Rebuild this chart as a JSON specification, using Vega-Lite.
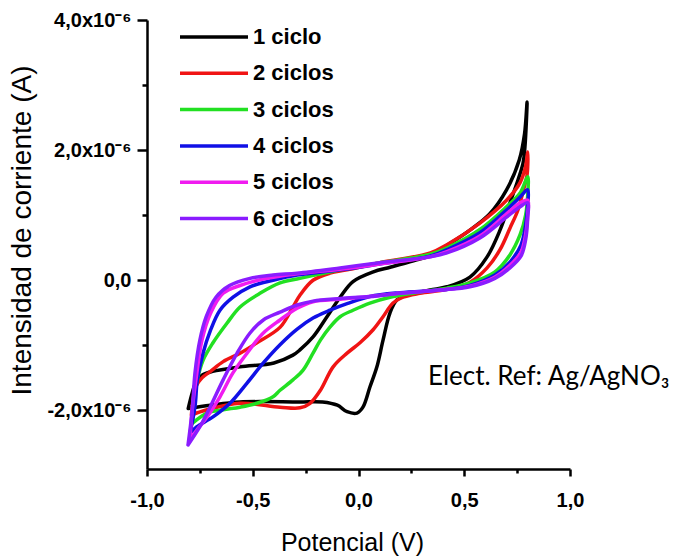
{
  "$schema": "https://vega.github.io/schema/vega-lite/v6.json",
  "width": 423,
  "height": 449,
  "autosize": "none",
  "padding": {"left": 147, "top": 20, "right": 104, "bottom": 87},
  "background": "white",
  "config": {"view": {"stroke": null}},
  "datasets": {
    "note": [{"E": 0.329, "I": -1.61, "label": "Elect. Ref: Ag/AgNO₃"}],
    "cv": [
      {"c":"1 ciclo","i":0,"E":-0.805,"I":-1.97},
      {"c":"1 ciclo","i":1,"E":-0.787,"I":-1.74},
      {"c":"1 ciclo","i":2,"E":-0.768,"I":-1.56},
      {"c":"1 ciclo","i":3,"E":-0.74,"I":-1.46},
      {"c":"1 ciclo","i":4,"E":-0.69,"I":-1.40},
      {"c":"1 ciclo","i":5,"E":-0.56,"I":-1.33},
      {"c":"1 ciclo","i":6,"E":-0.40,"I":-1.27},
      {"c":"1 ciclo","i":7,"E":-0.31,"I":-1.15},
      {"c":"1 ciclo","i":8,"E":-0.277,"I":-1.07},
      {"c":"1 ciclo","i":9,"E":-0.215,"I":-0.87},
      {"c":"1 ciclo","i":10,"E":-0.149,"I":-0.56},
      {"c":"1 ciclo","i":11,"E":-0.087,"I":-0.26},
      {"c":"1 ciclo","i":12,"E":-0.026,"I":-0.02},
      {"c":"1 ciclo","i":13,"E":0.07,"I":0.13},
      {"c":"1 ciclo","i":14,"E":0.15,"I":0.20},
      {"c":"1 ciclo","i":15,"E":0.26,"I":0.30},
      {"c":"1 ciclo","i":16,"E":0.34,"I":0.38},
      {"c":"1 ciclo","i":17,"E":0.42,"I":0.54},
      {"c":"1 ciclo","i":18,"E":0.53,"I":0.78},
      {"c":"1 ciclo","i":19,"E":0.62,"I":1.02},
      {"c":"1 ciclo","i":20,"E":0.70,"I":1.39},
      {"c":"1 ciclo","i":21,"E":0.76,"I":1.85},
      {"c":"1 ciclo","i":22,"E":0.785,"I":2.25},
      {"c":"1 ciclo","i":23,"E":0.797,"I":2.74},
      {"c":"1 ciclo","i":24,"E":0.787,"I":2.05},
      {"c":"1 ciclo","i":25,"E":0.778,"I":1.80},
      {"c":"1 ciclo","i":26,"E":0.754,"I":1.54},
      {"c":"1 ciclo","i":27,"E":0.716,"I":1.19},
      {"c":"1 ciclo","i":28,"E":0.669,"I":0.77},
      {"c":"1 ciclo","i":29,"E":0.608,"I":0.36},
      {"c":"1 ciclo","i":30,"E":0.527,"I":0.05},
      {"c":"1 ciclo","i":31,"E":0.418,"I":-0.10},
      {"c":"1 ciclo","i":32,"E":0.338,"I":-0.15},
      {"c":"1 ciclo","i":33,"E":0.229,"I":-0.23},
      {"c":"1 ciclo","i":34,"E":0.182,"I":-0.30},
      {"c":"1 ciclo","i":35,"E":0.149,"I":-0.50},
      {"c":"1 ciclo","i":36,"E":0.116,"I":-0.92},
      {"c":"1 ciclo","i":37,"E":0.087,"I":-1.33},
      {"c":"1 ciclo","i":38,"E":0.054,"I":-1.64},
      {"c":"1 ciclo","i":39,"E":0.021,"I":-1.95},
      {"c":"1 ciclo","i":40,"E":-0.007,"I":-2.04},
      {"c":"1 ciclo","i":41,"E":-0.054,"I":-2.02},
      {"c":"1 ciclo","i":42,"E":-0.10,"I":-1.92},
      {"c":"1 ciclo","i":43,"E":-0.17,"I":-1.87},
      {"c":"1 ciclo","i":44,"E":-0.28,"I":-1.87},
      {"c":"1 ciclo","i":45,"E":-0.56,"I":-1.87},
      {"c":"1 ciclo","i":46,"E":-0.70,"I":-1.92},
      {"c":"1 ciclo","i":47,"E":-0.805,"I":-1.97},

      {"c":"2 ciclos","i":0,"E":-0.79,"I":-2.07},
      {"c":"2 ciclos","i":1,"E":-0.783,"I":-1.85},
      {"c":"2 ciclos","i":2,"E":-0.77,"I":-1.64},
      {"c":"2 ciclos","i":3,"E":-0.74,"I":-1.50},
      {"c":"2 ciclos","i":4,"E":-0.70,"I":-1.40},
      {"c":"2 ciclos","i":5,"E":-0.64,"I":-1.25},
      {"c":"2 ciclos","i":6,"E":-0.56,"I":-1.12},
      {"c":"2 ciclos","i":7,"E":-0.48,"I":-0.96},
      {"c":"2 ciclos","i":8,"E":-0.37,"I":-0.72},
      {"c":"2 ciclos","i":9,"E":-0.31,"I":-0.41},
      {"c":"2 ciclos","i":10,"E":-0.277,"I":-0.23},
      {"c":"2 ciclos","i":11,"E":-0.215,"I":0.00},
      {"c":"2 ciclos","i":12,"E":-0.135,"I":0.11},
      {"c":"2 ciclos","i":13,"E":-0.054,"I":0.16},
      {"c":"2 ciclos","i":14,"E":0.10,"I":0.27},
      {"c":"2 ciclos","i":15,"E":0.34,"I":0.42},
      {"c":"2 ciclos","i":16,"E":0.42,"I":0.55},
      {"c":"2 ciclos","i":17,"E":0.574,"I":0.88},
      {"c":"2 ciclos","i":18,"E":0.70,"I":1.23},
      {"c":"2 ciclos","i":19,"E":0.764,"I":1.50},
      {"c":"2 ciclos","i":20,"E":0.79,"I":1.75},
      {"c":"2 ciclos","i":21,"E":0.80,"I":1.97},
      {"c":"2 ciclos","i":22,"E":0.797,"I":1.62},
      {"c":"2 ciclos","i":23,"E":0.78,"I":1.39},
      {"c":"2 ciclos","i":24,"E":0.754,"I":1.08},
      {"c":"2 ciclos","i":25,"E":0.716,"I":0.80},
      {"c":"2 ciclos","i":26,"E":0.669,"I":0.47},
      {"c":"2 ciclos","i":27,"E":0.608,"I":0.19},
      {"c":"2 ciclos","i":28,"E":0.527,"I":-0.03},
      {"c":"2 ciclos","i":29,"E":0.418,"I":-0.14},
      {"c":"2 ciclos","i":30,"E":0.29,"I":-0.20},
      {"c":"2 ciclos","i":31,"E":0.21,"I":-0.26},
      {"c":"2 ciclos","i":32,"E":0.163,"I":-0.35},
      {"c":"2 ciclos","i":33,"E":0.116,"I":-0.56},
      {"c":"2 ciclos","i":34,"E":0.069,"I":-0.76},
      {"c":"2 ciclos","i":35,"E":0.007,"I":-0.96},
      {"c":"2 ciclos","i":36,"E":-0.054,"I":-1.12},
      {"c":"2 ciclos","i":37,"E":-0.12,"I":-1.33},
      {"c":"2 ciclos","i":38,"E":-0.18,"I":-1.69},
      {"c":"2 ciclos","i":39,"E":-0.229,"I":-1.89},
      {"c":"2 ciclos","i":40,"E":-0.277,"I":-1.96},
      {"c":"2 ciclos","i":41,"E":-0.371,"I":-1.95},
      {"c":"2 ciclos","i":42,"E":-0.56,"I":-1.89},
      {"c":"2 ciclos","i":43,"E":-0.716,"I":-1.99},
      {"c":"2 ciclos","i":44,"E":-0.79,"I":-2.07},

      {"c":"3 ciclos","i":0,"E":-0.783,"I":-2.19},
      {"c":"3 ciclos","i":1,"E":-0.78,"I":-1.85},
      {"c":"3 ciclos","i":2,"E":-0.764,"I":-1.55},
      {"c":"3 ciclos","i":3,"E":-0.735,"I":-1.23},
      {"c":"3 ciclos","i":4,"E":-0.688,"I":-0.96},
      {"c":"3 ciclos","i":5,"E":-0.622,"I":-0.66},
      {"c":"3 ciclos","i":6,"E":-0.56,"I":-0.41},
      {"c":"3 ciclos","i":7,"E":-0.466,"I":-0.20},
      {"c":"3 ciclos","i":8,"E":-0.371,"I":-0.04},
      {"c":"3 ciclos","i":9,"E":-0.277,"I":0.03},
      {"c":"3 ciclos","i":10,"E":-0.087,"I":0.16},
      {"c":"3 ciclos","i":11,"E":0.10,"I":0.27},
      {"c":"3 ciclos","i":12,"E":0.34,"I":0.40},
      {"c":"3 ciclos","i":13,"E":0.42,"I":0.50},
      {"c":"3 ciclos","i":14,"E":0.574,"I":0.78},
      {"c":"3 ciclos","i":15,"E":0.70,"I":1.13},
      {"c":"3 ciclos","i":16,"E":0.764,"I":1.34},
      {"c":"3 ciclos","i":17,"E":0.80,"I":1.59},
      {"c":"3 ciclos","i":18,"E":0.80,"I":1.31},
      {"c":"3 ciclos","i":19,"E":0.79,"I":1.00},
      {"c":"3 ciclos","i":20,"E":0.764,"I":0.70},
      {"c":"3 ciclos","i":21,"E":0.716,"I":0.39},
      {"c":"3 ciclos","i":22,"E":0.645,"I":0.13},
      {"c":"3 ciclos","i":23,"E":0.527,"I":-0.04},
      {"c":"3 ciclos","i":24,"E":0.418,"I":-0.12},
      {"c":"3 ciclos","i":25,"E":0.29,"I":-0.18},
      {"c":"3 ciclos","i":26,"E":0.196,"I":-0.23},
      {"c":"3 ciclos","i":27,"E":0.149,"I":-0.26},
      {"c":"3 ciclos","i":28,"E":0.054,"I":-0.35},
      {"c":"3 ciclos","i":29,"E":-0.026,"I":-0.46},
      {"c":"3 ciclos","i":30,"E":-0.087,"I":-0.56},
      {"c":"3 ciclos","i":31,"E":-0.135,"I":-0.72},
      {"c":"3 ciclos","i":32,"E":-0.18,"I":-0.92},
      {"c":"3 ciclos","i":33,"E":-0.215,"I":-1.12},
      {"c":"3 ciclos","i":34,"E":-0.262,"I":-1.38},
      {"c":"3 ciclos","i":35,"E":-0.31,"I":-1.53},
      {"c":"3 ciclos","i":36,"E":-0.371,"I":-1.69},
      {"c":"3 ciclos","i":37,"E":-0.404,"I":-1.79},
      {"c":"3 ciclos","i":38,"E":-0.48,"I":-1.89},
      {"c":"3 ciclos","i":39,"E":-0.56,"I":-1.95},
      {"c":"3 ciclos","i":40,"E":-0.64,"I":-1.99},
      {"c":"3 ciclos","i":41,"E":-0.716,"I":-2.04},
      {"c":"3 ciclos","i":42,"E":-0.783,"I":-2.19},

      {"c":"4 ciclos","i":0,"E":-0.797,"I":-2.35},
      {"c":"4 ciclos","i":1,"E":-0.773,"I":-1.94},
      {"c":"4 ciclos","i":2,"E":-0.762,"I":-1.53},
      {"c":"4 ciclos","i":3,"E":-0.735,"I":-1.12},
      {"c":"4 ciclos","i":4,"E":-0.70,"I":-0.77},
      {"c":"4 ciclos","i":5,"E":-0.655,"I":-0.46},
      {"c":"4 ciclos","i":6,"E":-0.593,"I":-0.26},
      {"c":"4 ciclos","i":7,"E":-0.513,"I":-0.10},
      {"c":"4 ciclos","i":8,"E":-0.404,"I":0.00},
      {"c":"4 ciclos","i":9,"E":-0.29,"I":0.08},
      {"c":"4 ciclos","i":10,"E":-0.087,"I":0.16},
      {"c":"4 ciclos","i":11,"E":0.10,"I":0.25},
      {"c":"4 ciclos","i":12,"E":0.338,"I":0.37},
      {"c":"4 ciclos","i":13,"E":0.418,"I":0.47},
      {"c":"4 ciclos","i":14,"E":0.574,"I":0.73},
      {"c":"4 ciclos","i":15,"E":0.70,"I":1.08},
      {"c":"4 ciclos","i":16,"E":0.764,"I":1.28},
      {"c":"4 ciclos","i":17,"E":0.80,"I":1.39},
      {"c":"4 ciclos","i":18,"E":0.80,"I":1.16},
      {"c":"4 ciclos","i":19,"E":0.79,"I":0.85},
      {"c":"4 ciclos","i":20,"E":0.768,"I":0.54},
      {"c":"4 ciclos","i":21,"E":0.716,"I":0.28},
      {"c":"4 ciclos","i":22,"E":0.645,"I":0.08},
      {"c":"4 ciclos","i":23,"E":0.527,"I":-0.08},
      {"c":"4 ciclos","i":24,"E":0.418,"I":-0.14},
      {"c":"4 ciclos","i":25,"E":0.196,"I":-0.19},
      {"c":"4 ciclos","i":26,"E":0.054,"I":-0.25},
      {"c":"4 ciclos","i":27,"E":-0.054,"I":-0.36},
      {"c":"4 ciclos","i":28,"E":-0.135,"I":-0.46},
      {"c":"4 ciclos","i":29,"E":-0.215,"I":-0.58},
      {"c":"4 ciclos","i":30,"E":-0.29,"I":-0.75},
      {"c":"4 ciclos","i":31,"E":-0.371,"I":-0.99},
      {"c":"4 ciclos","i":32,"E":-0.45,"I":-1.27},
      {"c":"4 ciclos","i":33,"E":-0.527,"I":-1.58},
      {"c":"4 ciclos","i":34,"E":-0.608,"I":-1.89},
      {"c":"4 ciclos","i":35,"E":-0.688,"I":-2.10},
      {"c":"4 ciclos","i":36,"E":-0.764,"I":-2.25},
      {"c":"4 ciclos","i":37,"E":-0.797,"I":-2.35},

      {"c":"5 ciclos","i":0,"E":-0.797,"I":-2.45},
      {"c":"5 ciclos","i":1,"E":-0.785,"I":-1.95},
      {"c":"5 ciclos","i":2,"E":-0.764,"I":-1.42},
      {"c":"5 ciclos","i":3,"E":-0.74,"I":-0.92},
      {"c":"5 ciclos","i":4,"E":-0.70,"I":-0.51},
      {"c":"5 ciclos","i":5,"E":-0.64,"I":-0.20},
      {"c":"5 ciclos","i":6,"E":-0.56,"I":-0.08},
      {"c":"5 ciclos","i":7,"E":-0.433,"I":0.03},
      {"c":"5 ciclos","i":8,"E":-0.29,"I":0.10},
      {"c":"5 ciclos","i":9,"E":-0.087,"I":0.17},
      {"c":"5 ciclos","i":10,"E":0.10,"I":0.25},
      {"c":"5 ciclos","i":11,"E":0.338,"I":0.36},
      {"c":"5 ciclos","i":12,"E":0.418,"I":0.44},
      {"c":"5 ciclos","i":13,"E":0.574,"I":0.68},
      {"c":"5 ciclos","i":14,"E":0.70,"I":1.02},
      {"c":"5 ciclos","i":15,"E":0.764,"I":1.19},
      {"c":"5 ciclos","i":16,"E":0.80,"I":1.23},
      {"c":"5 ciclos","i":17,"E":0.80,"I":1.00},
      {"c":"5 ciclos","i":18,"E":0.79,"I":0.70},
      {"c":"5 ciclos","i":19,"E":0.768,"I":0.43},
      {"c":"5 ciclos","i":20,"E":0.716,"I":0.23},
      {"c":"5 ciclos","i":21,"E":0.645,"I":0.05},
      {"c":"5 ciclos","i":22,"E":0.527,"I":-0.09},
      {"c":"5 ciclos","i":23,"E":0.385,"I":-0.15},
      {"c":"5 ciclos","i":24,"E":0.196,"I":-0.20},
      {"c":"5 ciclos","i":25,"E":0.054,"I":-0.25},
      {"c":"5 ciclos","i":26,"E":-0.087,"I":-0.29},
      {"c":"5 ciclos","i":27,"E":-0.215,"I":-0.33},
      {"c":"5 ciclos","i":28,"E":-0.29,"I":-0.43},
      {"c":"5 ciclos","i":29,"E":-0.371,"I":-0.61},
      {"c":"5 ciclos","i":30,"E":-0.45,"I":-0.81},
      {"c":"5 ciclos","i":31,"E":-0.527,"I":-1.12},
      {"c":"5 ciclos","i":32,"E":-0.593,"I":-1.42},
      {"c":"5 ciclos","i":33,"E":-0.655,"I":-1.79},
      {"c":"5 ciclos","i":34,"E":-0.716,"I":-2.10},
      {"c":"5 ciclos","i":35,"E":-0.764,"I":-2.30},
      {"c":"5 ciclos","i":36,"E":-0.797,"I":-2.45},

      {"c":"6 ciclos","i":0,"E":-0.806,"I":-2.53},
      {"c":"6 ciclos","i":1,"E":-0.787,"I":-2.02},
      {"c":"6 ciclos","i":2,"E":-0.773,"I":-1.42},
      {"c":"6 ciclos","i":3,"E":-0.75,"I":-0.92},
      {"c":"6 ciclos","i":4,"E":-0.72,"I":-0.56},
      {"c":"6 ciclos","i":5,"E":-0.674,"I":-0.26},
      {"c":"6 ciclos","i":6,"E":-0.61,"I":-0.08},
      {"c":"6 ciclos","i":7,"E":-0.513,"I":0.03},
      {"c":"6 ciclos","i":8,"E":-0.404,"I":0.08},
      {"c":"6 ciclos","i":9,"E":-0.29,"I":0.11},
      {"c":"6 ciclos","i":10,"E":-0.087,"I":0.19},
      {"c":"6 ciclos","i":11,"E":0.10,"I":0.27},
      {"c":"6 ciclos","i":12,"E":0.338,"I":0.36},
      {"c":"6 ciclos","i":13,"E":0.418,"I":0.42},
      {"c":"6 ciclos","i":14,"E":0.574,"I":0.65},
      {"c":"6 ciclos","i":15,"E":0.70,"I":0.97},
      {"c":"6 ciclos","i":16,"E":0.764,"I":1.13},
      {"c":"6 ciclos","i":17,"E":0.80,"I":1.19},
      {"c":"6 ciclos","i":18,"E":0.80,"I":0.96},
      {"c":"6 ciclos","i":19,"E":0.79,"I":0.62},
      {"c":"6 ciclos","i":20,"E":0.768,"I":0.37},
      {"c":"6 ciclos","i":21,"E":0.716,"I":0.19},
      {"c":"6 ciclos","i":22,"E":0.645,"I":0.03},
      {"c":"6 ciclos","i":23,"E":0.527,"I":-0.10},
      {"c":"6 ciclos","i":24,"E":0.385,"I":-0.15},
      {"c":"6 ciclos","i":25,"E":0.196,"I":-0.20},
      {"c":"6 ciclos","i":26,"E":0.054,"I":-0.25},
      {"c":"6 ciclos","i":27,"E":-0.087,"I":-0.28},
      {"c":"6 ciclos","i":28,"E":-0.215,"I":-0.32},
      {"c":"6 ciclos","i":29,"E":-0.29,"I":-0.38},
      {"c":"6 ciclos","i":30,"E":-0.371,"I":-0.49},
      {"c":"6 ciclos","i":31,"E":-0.45,"I":-0.61},
      {"c":"6 ciclos","i":32,"E":-0.513,"I":-0.81},
      {"c":"6 ciclos","i":33,"E":-0.574,"I":-1.12},
      {"c":"6 ciclos","i":34,"E":-0.64,"I":-1.53},
      {"c":"6 ciclos","i":35,"E":-0.702,"I":-1.95},
      {"c":"6 ciclos","i":36,"E":-0.75,"I":-2.25},
      {"c":"6 ciclos","i":37,"E":-0.806,"I":-2.53}
    ]
  },
  "layer": [
    {
      "data": {"name": "cv"},
      "mark": {"type": "line", "interpolate": "catmull-rom", "strokeWidth": 3.5, "strokeCap": "round", "strokeJoin": "round"},
      "encoding": {
        "x": {
          "field": "E", "type": "quantitative",
          "scale": {"domain": [-1, 1], "nice": false, "zero": false},
          "axis": {
            "title": "Potencial (V)",
            "values": [-1, -0.75, -0.5, -0.25, 0, 0.25, 0.5, 0.75, 1],
            "labelExpr": "abs(datum.value*2 - round(datum.value*2)) > 0.01 ? '' : (datum.value < 0 ? '-' : '') + replace(format(abs(datum.value), '.1f'), '.', ',')",
            "labelOverlap": false, "labelFlush": false, "labelBound": false,
            "labelFont": "Liberation Sans", "labelFontWeight": "bold", "labelFontSize": 20, "labelColor": "black",
            "labelPadding": 14, "labelBaseline": "top",
            "tickSize": {"condition": {"test": "abs(datum.value*2 - round(datum.value*2)) > 0.01", "value": 4}, "value": 7},
            "tickWidth": 2.5, "tickColor": "black",
            "domainWidth": 2.5, "domainColor": "black", "grid": false,
            "titleFont": "Liberation Sans", "titleFontWeight": "normal", "titleFontSize": 25, "titleColor": "black",
            "titleX": 205, "titleY": 81, "titleBaseline": "alphabetic", "titleAlign": "center"
          }
        },
        "y": {
          "field": "I", "type": "quantitative",
          "scale": {"domain": [-2.9, 4.0], "nice": false, "zero": false},
          "axis": {
            "title": "Intensidad de corriente (A)",
            "values": [-2, -1, 0, 1, 2, 3, 4],
            "labelExpr": "datum.value == 0 ? '0,0' : (abs(datum.value % 2) > 0.01 ? '' : (datum.value < 0 ? '-' : '') + replace(format(abs(datum.value), '.1f'), '.', ',') + 'x10⁻⁶')",
            "labelOverlap": false, "labelFlush": false, "labelBound": false,
            "labelFont": "Liberation Sans", "labelFontWeight": "bold", "labelFontSize": 20, "labelColor": "black",
            "labelPadding": 6,
            "tickSize": {"condition": {"test": "abs(datum.value % 2) > 0.01", "value": 5}, "value": 10},
            "tickWidth": 2.5, "tickColor": "black",
            "domainWidth": 2.5, "domainColor": "black", "grid": false,
            "titleFont": "Liberation Sans", "titleFontWeight": "normal", "titleFontSize": 28, "titleColor": "black",
            "titleX": -117, "titleY": 210, "titleBaseline": "alphabetic", "titleAlign": "center", "titleAngle": -90
          }
        },
        "color": {
          "field": "c", "type": "nominal",
          "scale": {
            "domain": ["1 ciclo", "2 ciclos", "3 ciclos", "4 ciclos", "5 ciclos", "6 ciclos"],
            "range": ["#000000", "#f01414", "#22e022", "#1010e6", "#f01cf0", "#8a1cff"]
          },
          "legend": {
            "title": null, "orient": "none", "legendX": 48, "legendY": -2,
            "symbolType": "M-2,0H2", "symbolSize": 1156, "symbolStrokeWidth": 3.5,
            "labelFont": "Liberation Sans", "labelFontWeight": "bold", "labelFontSize": 22, "labelColor": "black",
            "labelOffset": 20, "rowPadding": 6.3, "padding": 0
          }
        },
        "order": {"field": "i", "type": "quantitative"}
      }
    },
    {
      "data": {"name": "note"},
      "mark": {"type": "text", "align": "left", "baseline": "alphabetic", "font": "Lato", "fontSize": 26, "color": "black"},
      "encoding": {
        "x": {"field": "E", "type": "quantitative"},
        "y": {"field": "I", "type": "quantitative"},
        "text": {"field": "label"}
      }
    }
  ]
}
